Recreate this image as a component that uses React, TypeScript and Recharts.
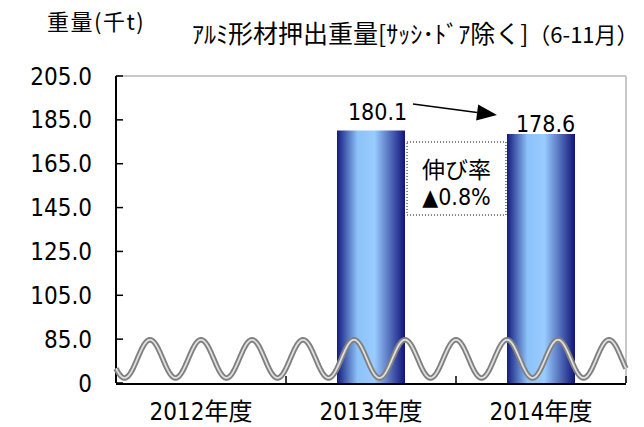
import React from 'react';
import { BarChart, Bar, XAxis, YAxis, LabelList, ReferenceArea, ReferenceLine } from 'recharts';

const categories = ['2012年度', '2013年度', '2014年度'];
const weights: (number | null)[] = [null, 180.1, 178.6];
const slotPositions = [0.5, 1.5, 2.5];
const yTicks = [65, 85, 105, 125, 145, 165, 185, 205];
const yTickLabels = ['0', '85.0', '105.0', '125.0', '145.0', '165.0', '185.0', '205.0'];
const boundaryTicks = [1, 2, 3];
const growthLabel = ['伸び率', '▲0.8%'];

const data = categories.map((name, i) => ({ name, value: weights[i], pos: slotPositions[i] }));

const NUM = '"DejaVu Sans Condensed", "DejaVu Sans", "Noto Sans CJK JP", sans-serif';
const JP = '"Noto Sans CJK JP", sans-serif';

// label placement tweaks (style only), by bar index
const labelLift = [10, 19, 10];
const labelShift = [5, 6.5, 4.5];

const WaveShape = (props: any) => {
  const { x, y, width, height } = props;
  const periods = 10;
  const P = width / periods;
  const cy = y + height / 2;
  const A = height / 2;
  let d = '';
  for (let px = 0; px <= width; px += 1) {
    const t = px / P;
    const yy = cy - A * Math.cos(2 * Math.PI * (t - 0.667));
    d += (px === 0 ? 'M' : 'L') + (x + px).toFixed(2) + ',' + yy.toFixed(2);
  }
  return (
    <g>
      <path d={d} fill="none" stroke="#808080" strokeWidth={5.5} />
      <path d={d} fill="none" stroke="#ffffff" strokeOpacity={0.75} strokeWidth={1.8} />
    </g>
  );
};

const BoxShape = (props: any) => {
  const { x, y, width, height } = props;
  const cx = x + width / 2;
  return (
    <g>
      <rect x={x} y={y} width={width} height={height} fill="#ffffff" stroke="#000" strokeWidth={1} strokeDasharray="1 2" />
      <text x={cx} y={y + height * 0.35} textAnchor="middle" dominantBaseline="central" fontFamily={JP} fontSize={23} fill="#000">{growthLabel[0]}</text>
      <text x={cx} y={y + height * 0.75} textAnchor="middle" dominantBaseline="central" fontFamily={NUM} fontSize={23} fill="#000">{growthLabel[1]}</text>
    </g>
  );
};

const ArrowShape = (props: any) => {
  const { x1, y1, x2, y2 } = props;
  const ang = Math.atan2(y2 - y1, x2 - x1);
  const L = 20;
  const W = 8;
  const bx = x2 - L * Math.cos(ang);
  const by = y2 - L * Math.sin(ang);
  const nx = -Math.sin(ang);
  const ny = Math.cos(ang);
  return (
    <g>
      <line x1={x1} y1={y1} x2={bx} y2={by} stroke="#000" strokeWidth={1.5} />
      <polygon points={`${x2},${y2} ${bx + nx * W},${by + ny * W} ${bx - nx * W},${by - ny * W}`} fill="#000" />
    </g>
  );
};

const ValueLabel = (props: any) => {
  const { x, y, width, value } = props;
  if (value == null) return null;
  let i = weights.indexOf(Number(value));
  if (i < 0) i = 0;
  return (
    <text x={Number(x) + Number(width) / 2 + labelShift[i]} y={Number(y) - labelLift[i]} textAnchor="middle" dominantBaseline="central" fontFamily={NUM} fontSize={23} fill="#000">
      {Number(value).toFixed(1)}
    </text>
  );
};

const TickMark = (props: any) => {
  const { x1, y1, x2, y2 } = props;
  return <line x1={x1} y1={y1} x2={x2} y2={y2} stroke="#000" strokeWidth={1.5} />;
};

export default function App() {
  return (
    <div style={{ position: 'absolute', left: 0, top: 0, width: 644, height: 427, background: '#fff' }}>
      <div style={{ position: 'absolute', left: 47, top: 5, fontFamily: JP, fontSize: 22, lineHeight: '30px', letterSpacing: 1.5, color: '#000', whiteSpace: 'nowrap' }}>重量(千t)</div>
      <div style={{ position: 'absolute', left: 192, top: 16, fontFamily: JP, lineHeight: '32px', color: '#000', whiteSpace: 'nowrap' }}>
        <span style={{ fontSize: 24 }}>ｱﾙﾐ</span>
        <span style={{ fontSize: 25 }}>形材押出重量</span>
        <span style={{ fontSize: 24 }}>[ｻｯｼ･ﾄﾞｱ</span>
        <span style={{ fontSize: 25 }}>除く</span>
        <span style={{ fontSize: 24 }}>]</span>
        <span style={{ fontSize: 22 }}>（6-11月）</span>
      </div>
      <BarChart width={644} height={427} data={data} margin={{ top: 76, right: 18, left: 56, bottom: 3 }}>
        <defs>
          <linearGradient id="barGrad" x1="0" y1="0" x2="1" y2="0">
            <stop offset="0" stopColor="#141c7c" />
            <stop offset="0.3" stopColor="#8cc2f8" />
            <stop offset="0.55" stopColor="#99ccff" />
            <stop offset="1" stopColor="#10147a" />
          </linearGradient>
        </defs>
        <XAxis xAxisId="b" type="number" dataKey="pos" domain={[0, 3]} height={1} tick={false} axisLine={false} tickLine={false} allowDataOverflow />
        <XAxis xAxisId="c" dataKey="name" height={40} tickLine={false} axisLine={{ stroke: '#000', strokeWidth: 2 }} tick={{ fontFamily: NUM, fontSize: 24, fill: '#000' }} tickMargin={13} />
        <YAxis domain={[65, 205]} ticks={yTicks} interval={0} width={60} allowDataOverflow
          tickFormatter={(v: number) => yTickLabels[yTicks.indexOf(v)] ?? String(v)}
          tick={{ fontFamily: NUM, fontSize: 24, fill: '#000' }}
          tickSize={-7} tickMargin={31}
          axisLine={{ stroke: '#000', strokeWidth: 2 }} tickLine={{ stroke: '#000', strokeWidth: 1.5 }} />
        <ReferenceLine xAxisId="b" y={205} stroke="#c8c8c8" strokeWidth={2} />
        <ReferenceLine xAxisId="b" x={3} stroke="#c8c8c8" strokeWidth={2} />
        <Bar xAxisId="c" dataKey="value" fill="url(#barGrad)" barSize={68} isAnimationActive={false}>
          <LabelList dataKey="value" content={<ValueLabel />} />
        </Bar>
        <ReferenceArea xAxisId="c" y1={67.3} y2={84.7} shape={<WaveShape />} ifOverflow="visible" zIndex={1000} />
        {boundaryTicks.map((b) => (
          <ReferenceLine key={'t' + b} xAxisId="b" segment={[{ x: b, y: 65 }, { x: b, y: 68.2 }]} shape={<TickMark />} ifOverflow="visible" zIndex={1100} />
        ))}
        <ReferenceArea xAxisId="b" x1={1.712} x2={2.294} y1={141.6} y2={174.9} shape={<BoxShape />} ifOverflow="visible" zIndex={1000} />
        <ReferenceLine xAxisId="b" segment={[{ x: 1.747, y: 192.2 }, { x: 2.241, y: 187.2 }]} shape={<ArrowShape />} ifOverflow="visible" zIndex={1000} />
      </BarChart>
    </div>
  );
}
